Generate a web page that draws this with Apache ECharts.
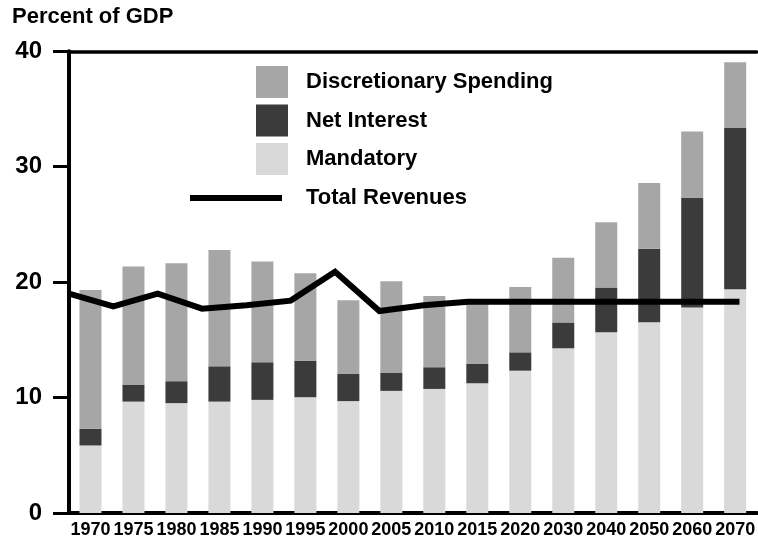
<!DOCTYPE html>
<html>
<head>
<meta charset="utf-8">
<script src="https://cdn.jsdelivr.net/npm/echarts@6/dist/echarts.min.js"></script>
<style>
html,body{margin:0;padding:0;background:#fff;}
#chart{width:758px;height:539px;}
</style>
</head>
<body>
<div id="chart"></div>
<script>
// ---- Data (percent of GDP) ----
var categories = ['1970','1975','1980','1985','1990','1995','2000','2005','2010','2015','2020','2030','2040','2050','2060','2070'];
var mandatory = [5.85, 9.65, 9.52, 9.65, 9.80, 10.03, 9.69, 10.58, 10.75, 11.24, 12.33, 14.27, 15.65, 16.53, 17.81, 19.39];
var netInterest = [1.45, 1.45, 1.90, 3.06, 3.26, 3.17, 2.36, 1.55, 1.88, 1.67, 1.59, 2.24, 3.88, 6.37, 9.49, 13.96];
var discretionary = [12.03, 10.25, 10.21, 10.07, 8.72, 7.57, 6.39, 7.95, 6.18, 5.59, 5.67, 5.61, 5.67, 5.70, 5.76, 5.70];
// Total revenues are drawn against a (hidden) year scale
var revenueYears = [1970, 1975, 1980, 1985, 1990, 1995, 2000, 2005, 2010, 2015, 2045.6];
var revenueValues = [19.0, 17.9, 19.0, 17.7, 18.0, 18.4, 20.9, 17.5, 18.0, 18.3, 18.3];
var yTicks = {min: 0, max: 40, interval: 10};

var names = {disc: 'Discretionary Spending', ni: 'Net Interest', mand: 'Mandatory', rev: 'Total Revenues'};
var colors = {disc: '#a6a6a6', ni: '#3b3b3b', mand: '#d9d9d9', rev: '#000000'};

var revenuePairs = revenueYears.map(function (y, i) { return [y, revenueValues[i]]; });

var chart = echarts.init(document.getElementById('chart'), null, {renderer: 'canvas'});
var FONT = "'Liberation Sans', Arial, Helvetica, sans-serif";
var NARROW = "'Liberation Sans Narrow', 'Arial Narrow', 'Liberation Sans', sans-serif";

var option = {
  backgroundColor: '#ffffff',
  animation: false,
  title: {
    text: 'Percent of GDP',
    left: 12, top: 6,
    padding: 0,
    textStyle: {fontFamily: FONT, fontWeight: 'bold', fontSize: 22, color: '#000'}
  },
  legend: [{
    orient: 'vertical',
    left: 256, top: 66,
    padding: 0,
    itemWidth: 32, itemHeight: 32, itemGap: 6.5,
    icon: 'rect',
    selectedMode: false,
    data: [names.disc, names.ni, names.mand],
    textStyle: {fontFamily: FONT, fontWeight: 'bold', fontSize: 22, color: '#000', padding: [0, 0, 0, 13]}
  }, {
    orient: 'vertical',
    left: 190, top: 187,
    padding: 0,
    itemWidth: 92, itemHeight: 6,
    icon: 'rect',
    selectedMode: false,
    data: [names.rev],
    textStyle: {fontFamily: FONT, fontWeight: 'bold', fontSize: 22, color: '#000', padding: [0, 0, 0, 19]}
  }],
  grid: {left: 69, top: 51.3, width: 694, height: 463.2, containLabel: false},
  xAxis: [{
    type: 'category',
    data: categories,
    position: 'bottom',
    axisLine: {show: true, lineStyle: {color: '#000', width: 4}},
    axisTick: {show: false},
    axisLabel: {fontFamily: NARROW, fontWeight: 'bold', fontSize: 18, color: '#000', margin: 8, interval: 0}
  }, {
    type: 'value',
    min: 1970, max: 2047.54,
    position: 'top',
    axisLine: {show: true, onZero: false, lineStyle: {color: '#000', width: 3.5}},
    axisTick: {show: false},
    axisLabel: {show: false},
    splitLine: {show: false}
  }],
  yAxis: {
    type: 'value',
    min: yTicks.min, max: yTicks.max, interval: yTicks.interval,
    axisLine: {show: true, lineStyle: {color: '#000', width: 4}},
    axisTick: {show: true, length: 16, lineStyle: {color: '#000', width: 3}},
    axisLabel: {fontFamily: FONT, fontWeight: 'bold', fontSize: 24, color: '#000', margin: 27},
    splitLine: {show: false}
  },
  series: [{
    name: names.mand, type: 'bar', stack: 'spend', data: mandatory,
    barWidth: 22, itemStyle: {color: colors.mand}, z: 2
  }, {
    name: names.ni, type: 'bar', stack: 'spend', data: netInterest,
    barWidth: 22, itemStyle: {color: colors.ni}, z: 2
  }, {
    name: names.disc, type: 'bar', stack: 'spend', data: discretionary,
    barWidth: 22, itemStyle: {color: colors.disc}, z: 2
  }, {
    name: names.rev, type: 'line', xAxisIndex: 1, data: revenuePairs,
    symbol: 'none', z: 5,
    itemStyle: {color: colors.rev},
    lineStyle: {color: colors.rev, width: 6, join: 'miter', cap: 'butt'}
  }]
};
chart.setOption(option);
</script>
</body>
</html>
